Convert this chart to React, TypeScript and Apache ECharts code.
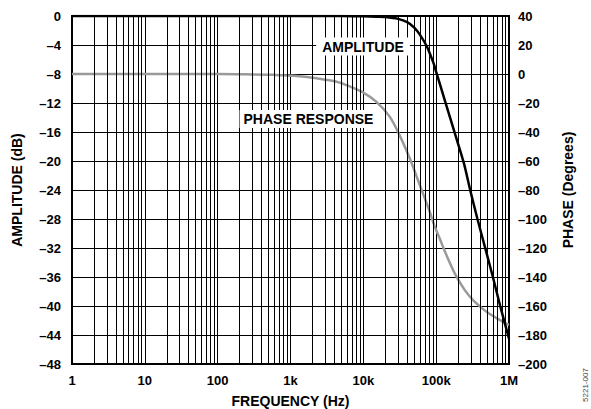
import React, { useEffect, useRef } from "react";
import * as echarts from "echarts";

// Frequency ticks (Hz) and their labels
const xTickValues = [1, 10, 100, 1000, 10000, 100000, 1000000];
const xTickLabels = ["1", "10", "100", "1k", "10k", "100k", "1M"];
// Minor grid lines: 2..9 x each decade
const decades = [1, 10, 100, 1000, 10000, 100000];
const minorFactors = [2, 3, 4, 5, 6, 7, 8, 9];

// Amplitude response (dB)
const ampFreq = [1, 10, 100, 1000, 5000, 10000, 15000, 20000, 30000, 40000, 50000, 60000, 74500, 92000, 100000, 133000, 182000, 240000, 293000, 369000, 471000, 601000, 757000, 1000000];
const ampDb = [0, 0, 0, 0, 0, -0.05, -0.1, -0.15, -0.4, -0.85, -1.6, -2.6, -4.2, -6.5, -7.7, -11.8, -16.3, -20.3, -24, -28, -32, -36, -40, -44.5];

// Phase response (degrees)
const phaseFreq = [1, 10, 100, 300, 600, 1100, 2300, 4300, 6600, 10000, 15000, 23000, 32000, 44000, 60000, 83000, 92000, 113000, 126000, 150000, 182000, 250000, 326000, 450000, 552000, 750000, 1000000];
const phaseDeg = [0, 0, 0, -0.3, -0.6, -1.2, -3, -5.3, -8.7, -12.8, -19, -29.4, -43, -59, -77, -96, -103, -114, -120, -129, -138, -149.4, -156.3, -162.5, -165.7, -169.7, -173];

const FONT = "'Liberation Sans', Arial, sans-serif";

function dash(v: number): string {
  return v < 0 ? "\u2013" + String(-v) : String(v);
}

export default function App() {
  const ref = useRef<HTMLDivElement>(null);

  useEffect(() => {
    if (!ref.current) return;
    const chart = echarts.init(ref.current, undefined, { renderer: "svg" });

    const minorLines: any[] = [];
    decades.forEach((d) => minorFactors.forEach((m) => minorLines.push({ xAxis: m * d })));

    const option: any = {
      animation: false,
      backgroundColor: "#fff",
      textStyle: { fontFamily: FONT },
      grid: {
        left: 72,
        top: 16,
        right: 82,
        bottom: 45,
        outerBoundsMode: "none",
        containLabel: false,
        show: true,
        borderColor: "#000",
        borderWidth: 2,
        backgroundColor: "transparent",
      },
      xAxis: {
        type: "log",
        logBase: 10,
        min: 1,
        max: 1000000,
        name: "FREQUENCY (Hz)",
        nameLocation: "middle",
        nameGap: 30,
        nameTextStyle: { fontFamily: FONT, fontWeight: "bold", fontSize: 14, color: "#000" },
        axisLine: { show: false },
        axisTick: { show: false },
        axisLabel: {
          margin: 10,
          fontFamily: FONT,
          fontWeight: "bold",
          fontSize: 13,
          color: "#000",
          formatter: (v: number) => {
            const i = xTickValues.findIndex((t) => Math.abs(Math.log10(t) - Math.log10(v)) < 1e-6);
            return i >= 0 ? xTickLabels[i] : "";
          },
        },
        splitLine: { show: true, lineStyle: { color: "#000", width: 1 } },
      },
      yAxis: [
        {
          type: "value",
          min: -48,
          max: 0,
          interval: 4,
          name: "AMPLITUDE (dB)",
          nameLocation: "middle",
          nameRotate: 90,
          nameGap: 48,
          nameTextStyle: { fontFamily: FONT, fontWeight: "bold", fontSize: 14, color: "#000" },
          axisLine: { show: false },
          axisTick: { show: false },
          axisLabel: { margin: 11, fontFamily: FONT, fontWeight: "bold", fontSize: 13, color: "#000", formatter: dash },
          splitLine: { show: true, lineStyle: { color: "#000", width: 1 } },
        },
        {
          type: "value",
          min: -200,
          max: 40,
          interval: 20,
          position: "right",
          name: "PHASE (Degrees)",
          nameLocation: "middle",
          nameRotate: 90,
          nameGap: 52,
          nameTextStyle: { fontFamily: FONT, fontWeight: "bold", fontSize: 14, color: "#000" },
          axisLine: { show: false },
          axisTick: { show: false },
          axisLabel: { margin: 9, fontFamily: FONT, fontWeight: "bold", fontSize: 13, color: "#000", formatter: dash },
          splitLine: { show: false },
        },
      ],
      series: [
        {
          name: "grid",
          type: "line",
          yAxisIndex: 0,
          data: [[1, -48]],
          symbol: "none",
          lineStyle: { width: 0 },
          silent: true,
          z: 1,
          markLine: {
            silent: true,
            symbol: "none",
            label: { show: false },
            lineStyle: { color: "#000", width: 1, type: "solid" },
            data: minorLines,
          },
        },
        {
          name: "PHASE RESPONSE",
          type: "line",
          yAxisIndex: 1,
          data: phaseFreq.map((f, i) => [f, phaseDeg[i]]),
          symbol: "none",
          smooth: 0.3,
          lineStyle: { color: "#9a9a9a", width: 2.5 },
          z: 3,
        },
        {
          name: "AMPLITUDE",
          type: "line",
          yAxisIndex: 0,
          data: ampFreq.map((f, i) => [f, ampDb[i]]),
          symbol: "none",
          smooth: 0.3,
          lineStyle: { color: "#000", width: 2.5 },
          z: 4,
        },
      ],
      graphic: [
        {
          type: "text",
          x: 363,
          y: 46.5,
          z: 10,
          style: {
            text: "AMPLITUDE",
            font: `bold 14px ${FONT}`,
            fill: "#000",
            align: "center",
            verticalAlign: "middle",
            textAlign: "center",
            textVerticalAlign: "middle",
            backgroundColor: "#fff",
            padding: [2, 6, 2, 6],
          },
        },
        {
          type: "text",
          x: 308.5,
          y: 119,
          z: 10,
          style: {
            text: "PHASE RESPONSE",
            font: `bold 14px ${FONT}`,
            fill: "#000",
            align: "center",
            verticalAlign: "middle",
            textAlign: "center",
            textVerticalAlign: "middle",
            backgroundColor: "#fff",
            padding: [2, 4, 2, 4],
          },
        },
        {
          type: "text",
          x: 585,
          y: 385,
          rotation: Math.PI / 2,
          style: {
            text: "5221-007",
            font: `8px ${FONT}`,
            fill: "#444",
            align: "center",
            verticalAlign: "middle",
            textAlign: "center",
            textVerticalAlign: "middle",
          },
        },
      ],
    };

    chart.setOption(option);
    return () => chart.dispose();
  }, []);

  return (
    <div
      ref={ref}
      style={{ position: "absolute", left: 0, top: 0, width: 591, height: 409 }}
    />
  );
}
